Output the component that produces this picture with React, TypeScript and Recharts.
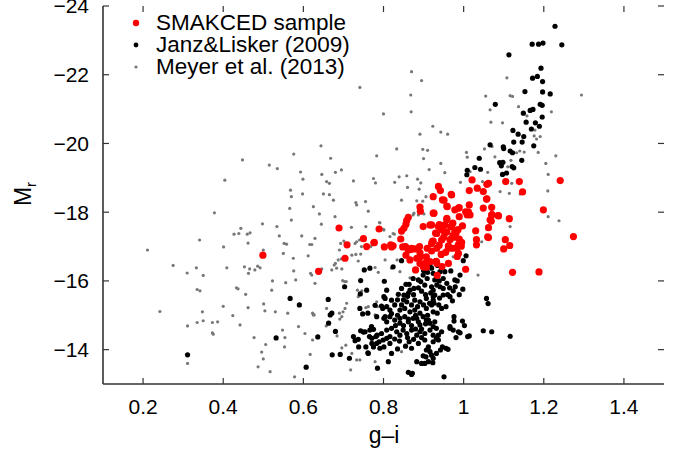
import { ScatterChart, Scatter, XAxis, YAxis, Legend, ReferenceLine } from "recharts"

const FONT = '"Liberation Sans", Arial, Helvetica, sans-serif'

const xTicks = [0.2, 0.4, 0.6, 0.8, 1, 1.2, 1.4]
const yTicks = [-24, -22, -20, -18, -16, -14]

// [g-i, M_r]
const smakcedPoints: [number, number][] = [
  [0.499, -16.75], [0.638, -16.28], [0.689, -17.54], [0.709, -17.05], [0.704, -16.66],
  [0.75, -17.23], [0.758, -17.0], [0.777, -17.12], [0.789, -17.51], [0.802, -16.99],
  [0.818, -17.05], [0.824, -17.02], [0.843, -17.22], [0.845, -17.45], [0.851, -17.53],
  [0.856, -17.65], [0.858, -17.76], [0.862, -17.85], [0.855, -17.0], [0.866, -16.61],
  [0.867, -16.91], [0.878, -16.93], [0.89, -17.0], [0.891, -16.82], [0.893, -16.71],
  [0.891, -18.15], [0.892, -18.03], [0.88, -16.32], [0.899, -17.58], [0.904, -16.52],
  [0.907, -16.4], [0.909, -16.95], [0.916, -17.63], [0.922, -17.15], [0.924, -18.45],
  [0.924, -17.97], [0.93, -17.39], [0.92, -16.87], [0.932, -16.57], [0.934, -16.16],
  [0.937, -18.75], [0.942, -18.63], [0.94, -17.63], [0.947, -18.36], [0.946, -17.49],
  [0.944, -16.77], [0.946, -16.42], [0.95, -17.26], [0.953, -17.39], [0.955, -16.83],
  [0.958, -18.18], [0.958, -17.78], [0.962, -17.02], [0.966, -17.2], [0.969, -18.52],
  [0.968, -17.58], [0.973, -17.68], [0.972, -16.95], [0.973, -17.32], [0.978, -17.27],
  [0.981, -17.39], [0.978, -18.07], [0.987, -18.12], [0.982, -16.96], [0.984, -16.71],
  [0.986, -17.49], [0.989, -17.22], [0.994, -17.01], [1.005, -16.34], [1.005, -18.01],
  [1.009, -17.92], [1.014, -18.21], [1.014, -18.63], [1.021, -18.94], [1.03, -17.46],
  [1.032, -17.2], [1.032, -17.05], [1.034, -18.7], [1.049, -18.6], [1.049, -18.12],
  [1.058, -18.81], [1.058, -18.39], [1.062, -17.55], [1.062, -17.26], [1.066, -17.78],
  [1.071, -17.93], [1.07, -18.14], [1.087, -17.89], [1.1, -16.93], [1.104, -17.2],
  [1.105, -18.89], [1.114, -17.81], [1.115, -17.03], [1.122, -16.25], [1.139, -18.89],
  [1.147, -18.59], [1.188, -16.26], [1.199, -18.07], [1.241, -18.92], [1.274, -17.29],
  [1.062, -18.84], [0.951, -18.35], [0.97, -18.5], [0.959, -18.16], [0.989, -18.13],
  [1.012, -18.01], [1.016, -17.92], [1.057, -18.38], [1.07, -17.92], [1.086, -17.9],
  [1.069, -17.74], [1.06, -17.28], [0.926, -17.97], [0.989, -17.87], [0.958, -17.82],
  [0.953, -17.63], [0.97, -17.58], [0.939, -17.63], [0.92, -17.63], [0.997, -17.6],
  [0.978, -17.43], [0.958, -17.43], [0.933, -17.38], [0.945, -17.19], [0.987, -17.06],
  [0.995, -17.12], [0.939, -17.04], [0.924, -17.16], [0.776, -17.11], [0.87, -16.95],
  [0.92, -17.09], [0.937, -17.58], [0.82, -16.99], [0.848, -16.99], [0.862, -16.9],
  [0.933, -16.95], [0.856, -16.75], [0.883, -16.66], [0.891, -16.51], [0.907, -16.7],
  [0.916, -16.56], [0.899, -16.41], [0.962, -16.95], [0.987, -16.8], [0.933, -16.51],
  [0.962, -16.51],
]

const janzLiskerPoints: [number, number][] = [
  // bright end
  [1.228, -23.41], [1.171, -22.89], [1.187, -22.89], [1.198, -22.92], [1.245, -22.87],
  [1.113, -22.58], [1.193, -22.19], [1.172, -21.9], [1.184, -21.95], [1.197, -21.8],
  [1.153, -21.51], [1.197, -21.5], [1.216, -21.44], [1.079, -21.14], [1.191, -21.14],
  [1.196, -21.11], [1.166, -20.96], [1.173, -20.99], [1.149, -20.88], [1.196, -20.77],
  [1.156, -20.62], [1.179, -20.6], [1.189, -20.5], [1.169, -20.42], [1.123, -20.38],
  [1.136, -20.27], [1.15, -20.2], [1.146, -20.04], [1.125, -20.04], [1.175, -19.93],
  [1.066, -19.96], [1.099, -19.9], [1.1, -19.85], [1.116, -19.78], [1.122, -19.73],
  [1.039, -19.57], [1.145, -19.51], [1.09, -19.44], [1.098, -19.45], [1.094, -19.35],
  [1.028, -19.3], [1.042, -19.25], [1.121, -19.33], [1.125, -19.29], [1.009, -19.22],
  [1.008, -19.09], [1.097, -19.1], [1.107, -19.14],
  // faint, left side
  [0.311, -13.85], [0.567, -15.49], [0.59, -15.3], [0.532, -14.34], [0.607, -13.49],
  [0.636, -14.37], [0.662, -15.46], [0.672, -13.85], [0.667, -15.01], [0.671, -15.06],
  [0.663, -14.77], [0.68, -14.53], [0.692, -13.86], [0.703, -15.83], [0.715, -13.75],
  [0.725, -14.38], [0.729, -14.26], [0.737, -14.3], [0.738, -14.08], [0.743, -16.01],
  [0.742, -15.62], [0.752, -16.32], [0.766, -16.37], [0.758, -15.73], [0.741, -15.2],
  [0.748, -15.04], [0.761, -15.06], [0.743, -14.55], [0.75, -14.51], [0.761, -13.91],
  [0.756, -14.08], [0.779, -15.29], [0.783, -14.96], [0.77, -14.67], [0.775, -14.59],
  [0.765, -14.38], [0.771, -14.33], [0.781, -14.38], [0.783, -14.18], [0.775, -14.08],
  [0.785, -13.46], [0.802, -15.99], [0.801, -15.54], [0.795, -15.27], [0.801, -14.91],
  [0.801, -14.08], [0.812, -13.65], [0.754, -14.52], [0.766, -14.57], [0.771, -14.18],
  [0.762, -13.89],
  // dense core
  [0.784, -14.42], [0.795, -14.47], [0.808, -14.57], [0.82, -14.62], [0.833, -14.52],
  [0.841, -14.42], [0.789, -14.23], [0.799, -14.28], [0.808, -14.33], [0.816, -14.38],
  [0.828, -14.31], [0.791, -14.04], [0.816, -14.18], [0.82, -13.89], [0.808, -14.81],
  [0.816, -14.96], [0.828, -14.86], [0.841, -14.77], [0.853, -14.96], [0.862, -14.81],
  [0.874, -14.91], [0.887, -14.81], [0.891, -14.72], [0.899, -14.96], [0.912, -14.86],
  [0.916, -14.77], [0.928, -14.81], [0.849, -14.57], [0.858, -14.47], [0.87, -14.57],
  [0.883, -14.42], [0.891, -14.52], [0.903, -14.47], [0.916, -14.57], [0.924, -14.42],
  [0.932, -14.33], [0.864, -14.23], [0.87, -14.04], [0.887, -14.18], [0.903, -14.28],
  [0.912, -14.08], [0.916, -13.94], [0.883, -13.65], [0.895, -13.6], [0.906, -13.79],
  [0.912, -13.65], [0.924, -13.75], [0.932, -13.89], [0.835, -14.02], [0.862, -13.34],
  [0.87, -13.28], [0.924, -14.67], [0.932, -14.62], [0.937, -14.42], [0.924, -14.23],
  [0.937, -14.28], [0.945, -14.52], [0.966, -14.62], [0.974, -14.57], [0.976, -14.96],
  [0.976, -14.83], [0.987, -14.52], [0.981, -14.35], [0.997, -14.83], [1.002, -14.7],
  [1.01, -14.38], [1.014, -14.4], [1.049, -14.55], [1.07, -14.52], [1.116, -14.39],
  [0.947, -14.08], [0.956, -14.04], [0.961, -14.01], [0.942, -13.99], [0.92, -13.84],
  [0.923, -13.62], [0.951, -13.21],
  [1.006, -16.73], [0.999, -16.59], [0.968, -16.29], [0.991, -16.17], [0.984, -16.0],
  [0.979, -15.83], [0.998, -15.76], [0.989, -15.6], [0.972, -15.42], [0.956, -15.25],
  [0.934, -15.06], [1.057, -15.49], [1.061, -15.34], [0.92, -16.37], [0.924, -16.22],
  [0.928, -16.03], [0.939, -16.0], [0.933, -15.88], [0.92, -15.83], [0.924, -15.73],
  [0.941, -15.83], [0.949, -15.78], [0.928, -15.59], [0.949, -15.59], [0.924, -15.44],
  [0.92, -15.3], [0.926, -15.35], [0.949, -16.07], [0.958, -15.93], [0.941, -16.27],
  [0.953, -16.27],
  [0.845, -15.78], [0.856, -15.9], [0.864, -15.9], [0.876, -15.78], [0.866, -15.73],
  [0.837, -15.61], [0.851, -15.59], [0.862, -15.64], [0.874, -16.07], [0.887, -16.03],
  [0.893, -15.98], [0.899, -16.17], [0.909, -16.07], [0.916, -16.46], [0.887, -15.8],
  [0.903, -15.88], [0.858, -15.39], [0.878, -15.44], [0.891, -15.39], [0.907, -15.49],
  [0.924, -15.54], [0.808, -15.73], [0.804, -15.49], [0.82, -15.44], [0.798, -15.2],
  [0.808, -15.25], [0.816, -15.15], [0.828, -15.3], [0.804, -14.96], [0.841, -15.15],
  [0.853, -15.2], [0.866, -15.1], [0.878, -15.15], [0.891, -15.06], [0.907, -15.2],
  [0.924, -15.1], [0.841, -14.91], [0.862, -14.89], [0.883, -14.91], [0.907, -14.86],
  [0.93, -16.59], [0.881, -16.32], [0.824, -16.41], [0.845, -16.59], [0.978, -16.03],
  [0.966, -15.54], [0.974, -15.71], [0.966, -14.67], [0.991, -14.49], [0.907, -13.99],
  [0.899, -13.82], [0.903, -13.6], [0.872, -13.31],
  // filling the crowded middle of the cloud
  [0.835, -15.0], [0.845, -15.3], [0.85, -15.45], [0.86, -15.55], [0.87, -15.3],
  [0.875, -15.6], [0.88, -15.0], [0.885, -15.25], [0.895, -15.7], [0.9, -15.3],
  [0.905, -15.6], [0.91, -15.0], [0.915, -15.35], [0.918, -15.65], [0.87, -14.7],
  [0.88, -14.6], [0.895, -14.6], [0.905, -14.75], [0.85, -14.7], [0.86, -14.35],
  [0.875, -14.3], [0.895, -14.35], [0.84, -14.25], [0.855, -14.1], [0.83, -14.7],
  [0.82, -15.05], [0.835, -15.45], [0.9, -16.3], [0.91, -16.25], [0.935, -16.45],
  [0.94, -15.5], [0.945, -15.2], [0.938, -15.3], [0.96, -15.6], [0.965, -15.8],
]

const meyerPoints: [number, number][] = [
  [0.741, -21.63], [0.644, -19.93], [0.448, -19.52], [0.576, -19.69], [0.668, -19.57],
  [0.783, -19.64], [0.515, -19.37], [0.535, -19.27], [0.593, -19.17], [0.599, -18.96],
  [0.404, -18.93], [0.646, -19.1], [0.658, -18.89], [0.665, -18.84], [0.68, -19.16],
  [0.695, -19.23], [0.725, -18.91], [0.775, -18.98], [0.78, -18.85],
  [0.87, -22.09], [0.895, -21.83], [0.868, -21.41], [0.869, -20.92], [0.8, -20.86],
  [0.923, -20.5], [0.891, -20.27], [0.943, -20.33], [0.96, -20.27], [0.833, -19.84],
  [0.898, -19.83], [0.91, -19.8], [0.9, -19.56], [0.943, -19.42], [0.953, -19.15],
  [0.914, -19.24], [0.828, -18.87], [0.839, -19.03], [0.858, -19.06], [0.86, -18.72],
  [0.885, -18.96], [0.893, -18.85], [0.889, -18.67], [0.906, -18.45], [0.992, -18.87],
  [1.007, -19.74], [1.009, -19.6], [1.016, -19.18], [1.052, -19.84], [1.06, -19.16],
  [1.071, -19.91], [1.078, -19.61], [1.055, -21.38], [1.066, -20.98], [1.068, -20.62],
  [1.097, -20.6], [1.108, -21.91], [1.116, -21.39], [1.122, -21.37], [1.137, -21.07],
  [1.158, -20.8], [1.176, -20.22], [1.182, -20.13], [1.191, -20.2], [1.178, -20.39],
  [1.186, -19.74], [1.205, -19.42], [1.211, -19.1], [1.21, -18.62], [1.219, -20.92],
  [1.23, -19.64], [1.294, -21.41], [1.118, -19.51], [1.11, -19.32], [1.132, -19.73],
  [1.14, -19.78], [1.151, -19.75], [1.12, -18.84], [1.047, -18.89], [1.091, -18.6],
  [1.114, -18.55], [1.141, -18.53], [1.211, -17.87], [1.238, -17.75], [1.116, -17.58],
  [1.045, -17.14], [1.036, -16.17], [0.974, -16.7],
  [0.845, -18.35], [0.883, -18.33], [0.874, -17.92], [0.824, -17.38], [0.816, -17.29],
  [0.801, -17.48], [0.804, -16.61], [0.841, -16.27], [0.845, -13.94], [0.898, -18.32],
  [0.876, -17.97], [0.887, -17.92], [0.901, -17.95], [0.79, -17.7], [0.827, -17.36],
  [0.779, -16.39], [0.787, -16.25], [0.834, -16.61], [0.82, -16.37], [0.866, -16.09],
  [0.756, -15.22], [0.762, -15.25], [0.779, -15.01], [0.783, -15.39],
  [0.211, -16.9], [0.275, -16.45], [0.242, -15.11], [0.31, -16.23], [0.333, -16.38],
  [0.341, -17.19], [0.35, -16.16], [0.335, -15.75], [0.342, -15.71], [0.348, -15.1],
  [0.35, -14.84], [0.335, -14.79], [0.311, -14.69], [0.311, -13.6], [0.378, -17.98],
  [0.373, -14.79], [0.386, -14.81], [0.373, -14.49], [0.375, -14.45], [0.401, -16.99],
  [0.4, -15.26], [0.409, -16.38], [0.424, -14.99], [0.427, -17.36], [0.439, -17.38],
  [0.444, -17.53], [0.433, -15.8], [0.437, -15.77], [0.442, -14.72], [0.453, -16.41],
  [0.456, -15.61], [0.46, -17.36], [0.462, -17.1], [0.467, -17.4], [0.463, -16.22],
  [0.466, -16.35], [0.479, -16.32], [0.486, -16.43], [0.492, -16.38], [0.462, -15.22],
  [0.477, -14.35], [0.498, -17.66], [0.5, -16.9], [0.501, -15.33], [0.504, -15.13],
  [0.496, -13.93], [0.5, -13.73], [0.487, -13.5], [0.506, -14.15], [0.517, -13.36],
  [0.521, -15.73], [0.523, -16.0], [0.534, -17.58], [0.54, -17.31], [0.53, -15.1],
  [0.548, -14.57], [0.554, -14.35], [0.553, -14.08], [0.552, -17.09], [0.558, -17.07],
  [0.55, -16.8], [0.556, -15.95], [0.561, -15.06], [0.57, -17.77], [0.566, -18.11],
  [0.57, -18.45], [0.568, -18.64], [0.575, -16.66], [0.576, -16.29], [0.581, -16.03],
  [0.588, -14.67], [0.578, -13.21], [0.596, -17.31], [0.598, -18.53], [0.604, -14.47],
  [0.612, -16.73], [0.616, -17.06], [0.621, -17.06], [0.618, -16.22], [0.621, -16.17],
  [0.623, -15.06], [0.625, -15.01], [0.627, -15.01], [0.629, -15.93], [0.623, -14.28],
  [0.617, -13.86], [0.625, -18.16], [0.64, -17.95], [0.645, -17.65], [0.629, -17.24],
  [0.65, -18.53], [0.665, -18.51], [0.675, -18.35], [0.679, -17.87], [0.677, -16.46],
  [0.68, -16.51], [0.687, -16.61], [0.683, -16.37], [0.69, -16.9], [0.693, -17.09],
  [0.695, -16.64], [0.698, -16.01], [0.703, -15.98], [0.707, -15.98], [0.69, -15.06],
  [0.699, -15.1], [0.704, -15.2], [0.708, -15.35], [0.72, -17.56], [0.733, -17.14],
  [0.74, -17.19], [0.731, -16.77], [0.737, -16.58], [0.743, -16.78], [0.731, -18.28],
  [0.733, -18.21], [0.755, -18.31], [0.762, -18.03], [0.756, -17.58], [0.721, -13.89],
  [0.733, -13.7], [0.741, -13.7], [0.718, -13.41], [0.779, -13.65], [0.785, -15.25],
  [0.791, -17.69], [0.8, -17.5], [0.657, -14.69], [0.691, -14.89], [0.684, -14.4],
  [0.706, -14.13], [0.696, -14.05], [0.646, -16.35], [0.671, -16.32], [0.696, -16.35],
  [0.721, -16.75], [0.735, -15.73], [0.746, -15.71], [0.737, -15.54], [0.658, -15.2],
  [0.696, -14.96], [0.701, -17.16], [0.729, -17.09], [0.745, -17.0], [0.768, -17.0],
]

const toRows = (pts: [number, number][]) => pts.map(([x, y]) => ({ x, y }))

const series = [
  { key: "smakced", name: "SMAKCED sample", color: "#ff0000", r: 3.6, legendR: 3.2, data: toRows(smakcedPoints) },
  { key: "janz", name: "Janz&Lisker (2009)", color: "#000000", r: 2.6, legendR: 2.4, data: toRows(janzLiskerPoints) },
  { key: "meyer", name: "Meyer et al. (2013)", color: "#777777", r: 1.6, legendR: 1.6, data: toRows(meyerPoints) },
]

const fmtX = (v: number) => String(Number(v.toFixed(1)))
const fmtY = (v: number) => (v < 0 ? "\u2212" + Math.abs(v) : String(v))

const TICK_LEN = 6
const axisLine = { stroke: "#333", strokeWidth: 1.6 }
const tickStyle = { fill: "#000", fontSize: 21, fontFamily: FONT }

// inward tick marks at both ends of a full-height / full-width reference line
function EdgeTicks(p: any) {
  const { x1, y1, x2, y2 } = p
  if (x1 === x2) {
    const top = Math.min(y1, y2)
    const bottom = Math.max(y1, y2)
    return (
      <g stroke="#333" strokeWidth={1.2}>
        <line x1={x1} x2={x1} y1={top} y2={top + TICK_LEN} />
        <line x1={x1} x2={x1} y1={bottom} y2={bottom - TICK_LEN} />
      </g>
    )
  }
  const left = Math.min(x1, x2)
  const right = Math.max(x1, x2)
  return (
    <g stroke="#333" strokeWidth={1.2}>
      <line y1={y1} y2={y1} x1={left} x2={left + TICK_LEN} />
      <line y1={y1} y2={y1} x1={right} x2={right - TICK_LEN} />
    </g>
  )
}

function LegendBox() {
  return (
    <div>
      {series.map((s) => (
        <div
          key={s.key}
          style={{ display: "flex", alignItems: "center", height: 22, fontFamily: FONT, fontSize: 22.5, color: "#000", whiteSpace: "nowrap" }}
        >
          <svg width={20} height={22}>
            <circle cx={10} cy={11} r={s.legendR} fill={s.color} />
          </svg>
          <span style={{ display: "block", marginLeft: 10, height: 22, lineHeight: "22px" }}>{s.name}</span>
        </div>
      ))}
    </div>
  )
}

export default function App() {
  // draw order: grey first, red on top
  const drawOrder = [...series].reverse()
  return (
    <div style={{ position: "absolute", left: 0, top: 0, width: 683, height: 457, background: "#fff" }}>
      <ScatterChart width={683} height={457} margin={{ top: 6, right: 19, bottom: 0, left: 0 }}>
        <XAxis
          xAxisId="b"
          type="number"
          dataKey="x"
          orientation="bottom"
          domain={[0.1, 1.5]}
          allowDataOverflow
          ticks={xTicks}
          interval={0}
          tickFormatter={fmtX}
          height={73}
          tickSize={-6}
          tickMargin={21}
          axisLine={axisLine}
          tickLine={false}
          tick={tickStyle}
          label={{
            content: () => (
              <text x={384} y={443} textAnchor="middle" fontSize={23} fontFamily={FONT} fill="#000">
                g–i
              </text>
            ),
          }}
        />
        <XAxis
          xAxisId="t"
          type="number"
          orientation="top"
          domain={[0.1, 1.5]}
          allowDataOverflow
          ticks={xTicks}
          height={0}
          axisLine={axisLine}
          tickLine={false}
          tick={false}
        />
        <YAxis
          yAxisId="l"
          type="number"
          dataKey="y"
          orientation="left"
          reversed
          domain={[-24, -13]}
          allowDataOverflow
          ticks={yTicks}
          interval={0}
          tickFormatter={fmtY}
          width={103}
          tickSize={-6}
          tickMargin={20}
          axisLine={axisLine}
          tickLine={false}
          tick={tickStyle}
          label={{
            content: () => (
              <text x={31} y={194} transform="rotate(-90 31 194)" textAnchor="middle" fontSize={23} fontFamily={FONT} fill="#000">
                M<tspan fontSize={15} dy={5}>r</tspan>
              </text>
            ),
          }}
        />
        <YAxis
          yAxisId="r"
          type="number"
          orientation="right"
          reversed
          domain={[-24, -13]}
          allowDataOverflow
          ticks={yTicks}
          width={0}
          axisLine={axisLine}
          tickLine={false}
          tick={false}
        />
        {xTicks.map((t) => (
          <ReferenceLine key={"xt" + t} x={t} xAxisId="b" yAxisId="l" shape={EdgeTicks} />
        ))}
        {yTicks.map((t) => (
          <ReferenceLine key={"yt" + t} y={t} xAxisId="b" yAxisId="l" shape={EdgeTicks} />
        ))}
        {drawOrder.map((s) => (
          <Scatter
            key={s.key}
            name={s.name}
            data={s.data}
            xAxisId="b"
            yAxisId="l"
            fill={s.color}
            isAnimationActive={false}
            shape={(p: any) => <circle cx={p.cx} cy={p.cy} r={s.r} fill={s.color} />}
          />
        ))}
        <Legend
          layout="vertical"
          align="center"
          verticalAlign="middle"
          wrapperStyle={{ top: 12, left: 126, width: 260, height: 70 }}
          content={() => <LegendBox />}
        />
      </ScatterChart>
    </div>
  )
}
